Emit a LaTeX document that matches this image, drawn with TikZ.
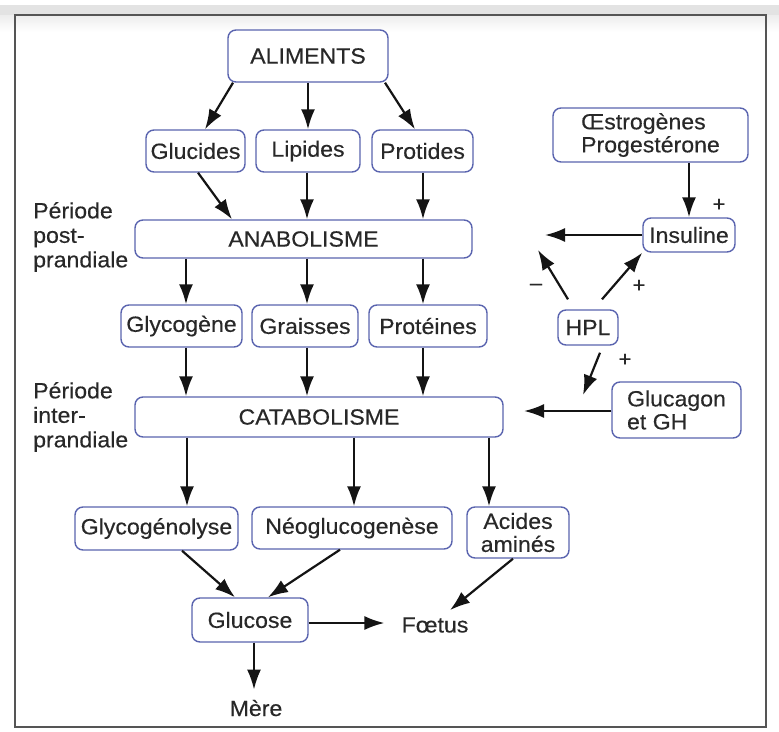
\documentclass[tikz,border=0pt]{standalone}
\usepackage{fontspec}
\setmainfont{Liberation Sans}[FakeStretch=1.05,FakeBold=0.35]
\usetikzlibrary{arrows.meta}
\definecolor{boxblue}{RGB}{90,100,175}
\definecolor{txt}{RGB}{40,40,40}
\definecolor{arrowc}{RGB}{20,20,20}
\definecolor{framec}{RGB}{85,85,85}
\begin{document}
\begin{tikzpicture}[x=1pt,y=-1pt,
  box/.style={draw=boxblue, line width=1.4pt, rounded corners=8pt, fill=white, text=txt,
              inner sep=0pt, align=center, font=\fontsize{22}{23}\selectfont},
  lbl/.style={text=txt, inner sep=0pt, font=\fontsize{22}{24.5}\selectfont},
  arr/.style={draw=arrowc, line width=2.2pt, -{Latex[length=20pt,width=14pt]}},
  sign/.style={text=txt, inner sep=0pt, font=\fontsize{21}{22}\selectfont}]
\useasboundingbox (0,0) rectangle (779,731);
% background
\fill[white] (0,0) rectangle (779,731);
\fill[gray!22] (0,5) rectangle (779,15);
\shade[top color=gray!14, bottom color=white] (0,15) rectangle (779,32);
\draw[framec, line width=1.5pt] (15,15) rectangle (766,727);

% nodes
\node[box, minimum width=160pt, minimum height=52pt] (alim) at (308,56) {ALIMENTS};
\node[box, minimum width=99pt, minimum height=42pt] (gluc) at (195.5,151) {Glucides};
\node[box, minimum width=104pt, minimum height=42pt] (lipi) at (308,151) {Lipides};
\node[box, minimum width=101pt, minimum height=42pt] (prot) at (422.5,151) {Protides};
\node[box, minimum width=337pt, minimum height=38pt] (anab) at (303.5,239) {ANABOLISME};
\node[box, minimum width=121pt, minimum height=42pt] (glyc) at (181.5,326) {Glycogène};
\node[box, minimum width=106pt, minimum height=42pt] (grai) at (305,326) {Graisses};
\node[box, minimum width=118pt, minimum height=42pt] (prte) at (428,326) {Protéines};
\node[box, minimum width=368pt, minimum height=40pt] (cata) at (319,417) {CATABOLISME};
\node[box, minimum width=163pt, minimum height=43pt] (glyl) at (156.5,528.5) {Glycogénolyse};
\node[box, minimum width=200pt, minimum height=42pt] (neog) at (352,528) {Néoglucogenèse};
\node[box, minimum width=102pt, minimum height=51pt] (acid) at (518,532.5) {Acides\\aminés};
\node[box, minimum width=116pt, minimum height=44pt] (gluo) at (250,620) {Glucose};
\node[lbl] (foet) at (435,625) {Fœtus};
\node[lbl] (mere) at (256,708) {Mère};
\node[box, align=left, minimum width=195pt, minimum height=54pt] (oest) at (650.5,135) {Œstrogènes\\Progestérone};
\node[box, minimum width=92pt, minimum height=34pt] (insu) at (689,235) {Insuline};
\node[box, minimum width=60pt, minimum height=35pt] (hpl) at (588,327.5) {HPL};
\node[box, align=left, minimum width=129pt, minimum height=56pt] (gcgn) at (676.5,410) {Glucagon\\et GH};
\node[lbl, align=left, anchor=west] (post) at (33,237) {Période\\post-\\prandiale};
\node[lbl, align=left, anchor=west] (inter) at (33,417) {Période\\inter-\\prandiale};

% signs
\node[sign] (s1) at (719,205) {+};
\node[sign] (s2) at (536,287) {–};
\node[sign] (s3) at (639,286) {+};
\node[sign] (s4) at (625,360) {+};

% free ends
\coordinate (insuEnd) at (545,235);
\coordinate (hplUp) at (538,250);
\coordinate (hplDown) at (583,395);
\coordinate (gcgnEnd) at (524,411);

% connectors top
\draw[arr] ([xshift=-75pt]alim.south) -- ([xshift=9.5pt]gluc.north);
\draw[arr] (alim.south) -- (lipi.north);
\draw[arr] ([xshift=77pt]alim.south) -- ([xshift=-7.5pt]prot.north);
\draw[arr] ([xshift=2.5pt]gluc.south) -- ([xshift=-71.5pt]anab.north);
\draw[arr] ([xshift=-1pt]lipi.south) -- ([xshift=3.5pt]anab.north);
\draw[arr] ([xshift=0.5pt]prot.south) -- ([xshift=119.5pt]anab.north);
% anabolisme -> reserves
\draw[arr] ([xshift=-117.5pt]anab.south) -- ([xshift=4.5pt]glyc.north);
\draw[arr] ([xshift=3.5pt]anab.south) -- ([xshift=2pt]grai.north);
\draw[arr] ([xshift=119.5pt]anab.south) -- ([xshift=-5pt]prte.north);
% reserves -> catabolisme
\draw[arr] ([xshift=4.5pt]glyc.south) -- ([xshift=-133pt]cata.north);
\draw[arr] ([xshift=2pt]grai.south) -- ([xshift=-12pt]cata.north);
\draw[arr] ([xshift=-5pt]prte.south) -- ([xshift=104pt]cata.north);
% catabolisme -> products
\draw[arr] ([xshift=-132pt]cata.south) -- ([xshift=30.5pt]glyl.north);
\draw[arr] ([xshift=35pt]cata.south) -- ([xshift=2pt]neog.north);
\draw[arr] ([xshift=170pt]cata.south) -- ([xshift=-29pt]acid.north);
% to glucose
\draw[arr] ([xshift=25.5pt]glyl.south) -- ([xshift=-15pt]gluo.north);
\draw[arr] ([xshift=-12pt]neog.south) -- ([xshift=18pt]gluo.north);
\draw[arr] ([xshift=-5pt]acid.south) -- ([xshift=15pt,yshift=7pt]foet.north);
\draw[arr] ([yshift=-3pt]gluo.east) -- ([xshift=-17pt,yshift=2pt]foet.west);
\draw[arr] ([xshift=4pt]gluo.south) -- ([xshift=-2pt,yshift=10pt]mere.north);
% hormones
\draw[arr] ([xshift=38.5pt]oest.south) -- (insu.north);
\draw[arr] (insu.west) -- (insuEnd);
\draw[arr] ([xshift=-20pt,yshift=10pt]hpl.north) -- (hplUp);
\draw[arr] ([xshift=14pt,yshift=10pt]hpl.north) -- (insu.south west);
\draw[arr] ([xshift=12pt,yshift=-7pt]hpl.south) -- (hplDown);
\draw[arr] ([yshift=-1pt]gcgn.west) -- (gcgnEnd);
\end{tikzpicture}
\end{document}
